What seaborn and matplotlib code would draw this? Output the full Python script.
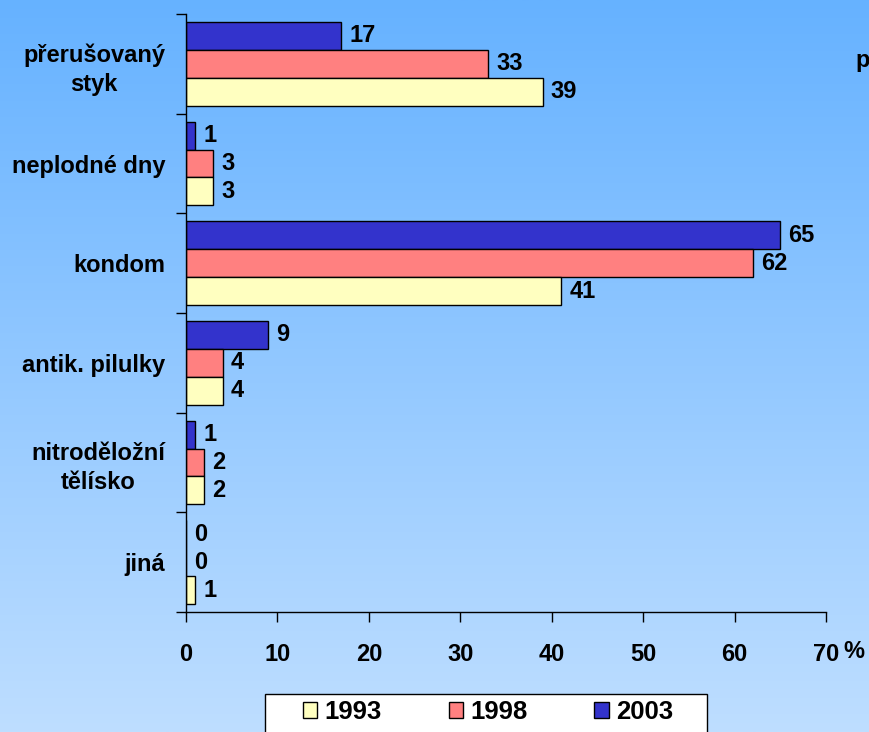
import matplotlib.pyplot as plt
import matplotlib.patches as mpatches
import numpy as np
import pandas as pd
import seaborn as sns

categories = ["přerušovaný\nstyk", "neplodné dny", "kondom", "antik. pilulky",
              "nitroděložní\ntělísko", "jiná"]
years = ["1993", "1998", "2003"]
values_1993 = [39, 3, 41, 4, 2, 1]
values_1998 = [33, 3, 62, 4, 2, 0]
values_2003 = [17, 1, 65, 9, 1, 0]
x_ticks = [0, 10, 20, 30, 40, 50, 60, 70]

colors = {"1993": "#FFFFC0", "1998": "#FF8080", "2003": "#3333CC"}

df = pd.DataFrame({
    "metoda": categories * 3,
    "rok": ["1993"] * 6 + ["1998"] * 6 + ["2003"] * 6,
    "hodnota": values_1993 + values_1998 + values_2003,
})

sns.set_theme(style="white")
plt.rcParams["font.family"] = ["Liberation Sans", "DejaVu Sans"]
plt.rcParams["font.weight"] = "bold"
for key in ["text.color", "axes.labelcolor", "xtick.color", "ytick.color"]:
    plt.rcParams[key] = "black"

fs = 17

fig = plt.figure(figsize=(8.69, 7.32), dpi=100)

# gradient background
bg = fig.add_axes([0, 0, 1, 1], zorder=-10)
top = np.array([102, 178, 255]) / 255
bottom = np.array([190, 222, 255]) / 255
t = np.linspace(0, 1, 256)[:, None]
grad = top * (1 - t) + bottom * t
bg.imshow(grad[:, None, :], aspect="auto", extent=[0, 1, 0, 1])
bg.axis("off")

ax = fig.add_axes([186 / 869, 1 - 612 / 732, 640 / 869, 598 / 732])
ax.patch.set_alpha(0)

sns.barplot(data=df, y="metoda", x="hodnota", hue="rok",
            hue_order=["2003", "1998", "1993"], order=categories,
            palette=colors, orient="h", width=0.84, saturation=1,
            edgecolor="black", linewidth=1, legend=False, ax=ax)

for cont in ax.containers:
    ax.bar_label(cont, padding=6, fontsize=fs, fontweight="bold")

ax.set_xlim(0, 70)
ax.set_ylim(5.5, -0.5)
ax.set_xticks(x_ticks)
ax.set_xticklabels([str(v) for v in x_ticks], fontsize=fs, fontweight="bold")
ax.set_yticks(range(len(categories)))
ax.set_yticklabels(categories, fontsize=fs, fontweight="bold",
                   multialignment="center", linespacing=1.35)
ax.set_yticks(np.arange(-0.5, 6, 1), minor=True)
ax.tick_params(axis="y", which="major", length=0, pad=15)
ax.tick_params(axis="y", which="minor", length=7, width=1, color="black", direction="out", left=True)
ax.tick_params(axis="x", length=7, width=1, color="black", direction="out", bottom=True, pad=15)
ax.set_xlabel("")
ax.set_ylabel("")
for s in ["top", "right"]:
    ax.spines[s].set_visible(False)
for s in ["left", "bottom"]:
    ax.spines[s].set_color("black")
    ax.spines[s].set_linewidth(1)

fig.text(843 / 869, 1 - 651 / 732, "%", fontsize=fs, fontweight="bold", va="center")
fig.text(855 / 869, 1 - 60 / 732, "p", fontsize=fs, fontweight="bold", va="center")

# legend frame drawn separately (it runs off the bottom edge)
fig.patches.append(mpatches.Rectangle((265 / 869, -0.02), 442 / 869, 0.02 + 38 / 732,
                                      transform=fig.transFigure, facecolor="white",
                                      edgecolor="black", linewidth=1, zorder=1))
handles = [mpatches.Patch(facecolor=colors[y], edgecolor="black", label=y) for y in years]
leg = fig.legend(handles=handles, ncol=3, loc="center",
                 bbox_to_anchor=(488 / 869, 1 - 712 / 732),
                 prop={"size": 18.5, "weight": "bold"}, frameon=False,
                 handlelength=0.55, handleheight=0.55,
                 handletextpad=0.3, columnspacing=2.6, borderpad=0, borderaxespad=0)
leg.set_zorder(2)

fig.savefig("out.png", dpi=100)
